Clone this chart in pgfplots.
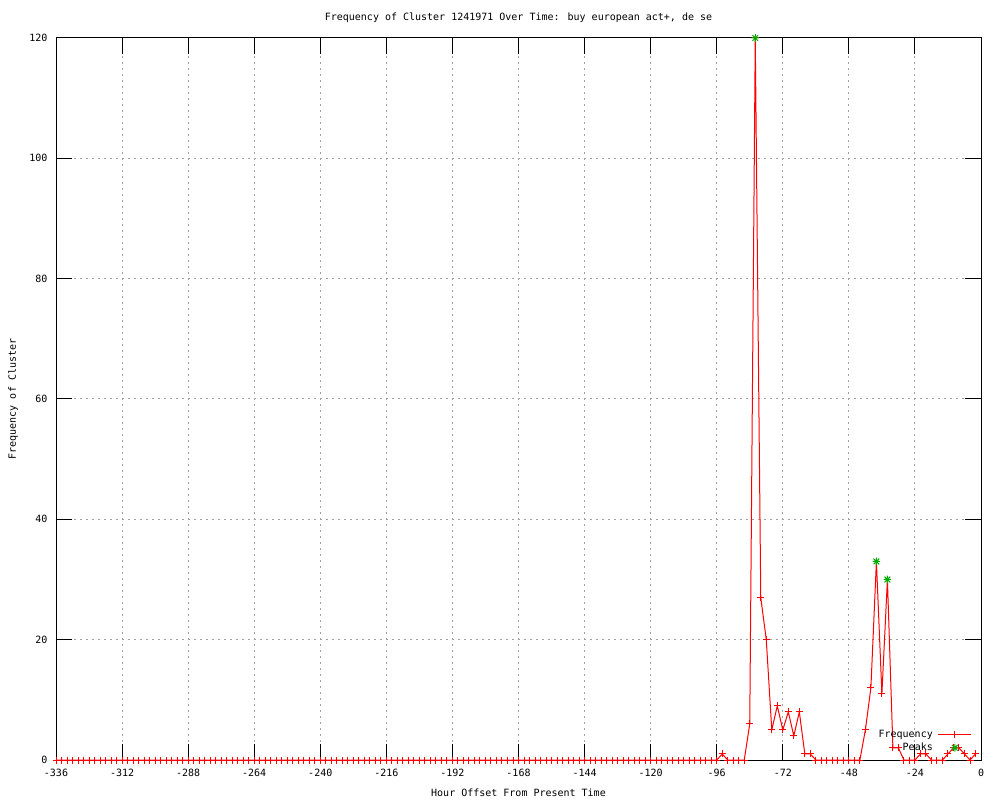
\documentclass[border=0pt]{standalone}
\usepackage{pgfplots}
\pgfplotsset{compat=1.18}
\usepackage{fontspec}
\setmainfont{DejaVu Sans Mono}
\pgfdeclareplotmark{gpstar}{%
  \pgfpathmoveto{\pgfqpoint{-\pgfplotmarksize}{0pt}}\pgfpathlineto{\pgfqpoint{\pgfplotmarksize}{0pt}}%
  \pgfpathmoveto{\pgfqpoint{0pt}{-\pgfplotmarksize}}\pgfpathlineto{\pgfqpoint{0pt}{\pgfplotmarksize}}%
  \pgfpathmoveto{\pgfqpoint{-.75\pgfplotmarksize}{-.75\pgfplotmarksize}}\pgfpathlineto{\pgfqpoint{.75\pgfplotmarksize}{.75\pgfplotmarksize}}%
  \pgfpathmoveto{\pgfqpoint{-.75\pgfplotmarksize}{.75\pgfplotmarksize}}\pgfpathlineto{\pgfqpoint{.75\pgfplotmarksize}{-.75\pgfplotmarksize}}%
  \pgfusepathqstroke}
\pgfplotstableread{
x y
-336 0
-334 0
-332 0
-330 0
-328 0
-326 0
-324 0
-322 0
-320 0
-318 0
-316 0
-314 0
-312 0
-310 0
-308 0
-306 0
-304 0
-302 0
-300 0
-298 0
-296 0
-294 0
-292 0
-290 0
-288 0
-286 0
-284 0
-282 0
-280 0
-278 0
-276 0
-274 0
-272 0
-270 0
-268 0
-266 0
-264 0
-262 0
-260 0
-258 0
-256 0
-254 0
-252 0
-250 0
-248 0
-246 0
-244 0
-242 0
-240 0
-238 0
-236 0
-234 0
-232 0
-230 0
-228 0
-226 0
-224 0
-222 0
-220 0
-218 0
-216 0
-214 0
-212 0
-210 0
-208 0
-206 0
-204 0
-202 0
-200 0
-198 0
-196 0
-194 0
-192 0
-190 0
-188 0
-186 0
-184 0
-182 0
-180 0
-178 0
-176 0
-174 0
-172 0
-170 0
-168 0
-166 0
-164 0
-162 0
-160 0
-158 0
-156 0
-154 0
-152 0
-150 0
-148 0
-146 0
-144 0
-142 0
-140 0
-138 0
-136 0
-134 0
-132 0
-130 0
-128 0
-126 0
-124 0
-122 0
-120 0
-118 0
-116 0
-114 0
-112 0
-110 0
-108 0
-106 0
-104 0
-102 0
-100 0
-98 0
-96 0
-94 1
-92 0
-90 0
-88 0
-86 0
-84 6
-82 120
-80 27
-78 20
-76 5
-74 9
-72 5
-70 8
-68 4
-66 8
-64 1
-62 1
-60 0
-58 0
-56 0
-54 0
-52 0
-50 0
-48 0
-46 0
-44 0
-42 5
-40 12
-38 33
-36 11
-34 30
-32 2
-30 2
-28 0
-26 0
-24 0
-22 1
-20 1
-18 0
-16 0
-14 0
-12 1
-10 2
-8 2
-6 1
-4 0
-2 1
}\freqdata
\pgfplotstableread{
x y
-82 120
-38 33
-34 30
}\peakdata
\begin{document}
\begin{tikzpicture}[font=\fontsize{10}{12}\selectfont]
\useasboundingbox (0,0) rectangle (1000pt,800pt);
\begin{axis}[
  at={(56pt,40pt)}, anchor=south west,
  scale only axis, width=925pt, height=722pt,
  xmin=-336, xmax=0, ymin=0, ymax=120,
  xtick={-336,-312,...,0}, ytick={0,20,...,120},
  minor tick num=0,
  tick align=inside, major tick length=16pt,
  tick style={black, line width=1pt},
  axis line style={black, line width=1pt},
  grid=major,
  major grid style={gray!75, line width=1pt, dash pattern=on 2pt off 4pt},
  /pgf/number format/assume math mode=true,
  xticklabel style={yshift=-6pt},
  yticklabel style={xshift=-5pt},
  clip=false,
  title={Frequency of Cluster 1241971 Over Time: buy european act+, de se},
  xlabel={Hour Offset From Present Time},
  ylabel={Frequency of Cluster},
  every axis title/.style={at={(rel axis cs:0.5,1)}, anchor=center, yshift=20pt},
  every axis x label/.style={at={(rel axis cs:0.5,0)}, anchor=center, yshift=-33pt},
  every axis y label/.style={at={(rel axis cs:0,0.5)}, anchor=center, xshift=-43pt, rotate=90},
  legend plot pos=right,
  legend cell align=right,
  legend image code/.code={\draw[mark repeat=2,mark phase=2,#1] plot coordinates {(0pt,0pt) (16.5pt,0pt) (33pt,0pt)};},
  legend style={draw=none, fill=none, at={(rel axis cs:1,0)}, anchor=south east,
    xshift=-9pt, yshift=5.5pt, inner sep=0pt, column sep=3pt, row sep=0pt,
    nodes={inner sep=2pt, text height=7pt, text depth=2pt}},
]
\addplot[red, line width=1pt, mark=+, mark size=3.5pt, mark options={red, line width=1pt}] table[x=x,y=y] {\freqdata};
\addlegendentry{Frequency}
\addplot[only marks, color={rgb,255:red,0;green,170;blue,0}, mark=gpstar, mark size=3.8pt, mark options={color={rgb,255:red,0;green,170;blue,0}, line width=1pt}] table[x=x,y=y] {\peakdata};
\addlegendentry{Peaks}
\end{axis}
\end{tikzpicture}
\end{document}
